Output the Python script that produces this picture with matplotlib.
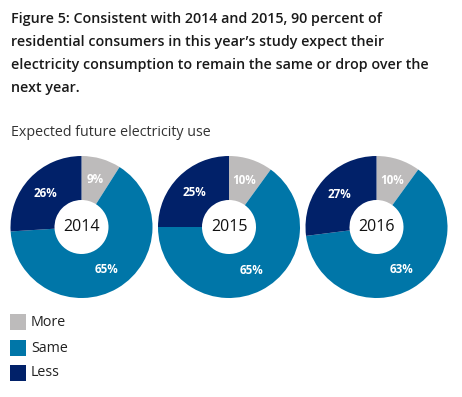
import matplotlib.pyplot as plt

# data
years = ['2014', '2015', '2016']
more = [9, 10, 10]
same = [65, 65, 63]
less = [26, 25, 27]
categories = ['More', 'Same', 'Less']
colors = ['#bdbbbb', '#0076a8', '#012169']

title_lines = ["Figure 5: Consistent with 2014 and 2015, 90 percent of",
               "residential consumers in this year\u2019s study expect their",
               "electricity consumption to remain the same or drop over the",
               "next year."]
subtitle = "Expected future electricity use"

W, H = 462, 397
plt.rcParams['font.family'] = ['Open Sans', 'DejaVu Sans']

fig = plt.figure(figsize=(W / 100, H / 100), dpi=100)
ax = fig.add_axes([0, 0, 1, 1])

centers_x = [81.5, 229, 376.5]
cy = H - 227
R = 71
hole = 27

for i, yr in enumerate(years):
    vals = [more[i], same[i], less[i]]
    wedges, texts, autotexts = ax.pie(
        vals, colors=colors, startangle=90, counterclock=False,
        center=(centers_x[i], cy), radius=R,
        wedgeprops=dict(width=R - hole, linewidth=0),
        autopct=lambda p: f'{p:.0f}%', pctdistance=(R + hole) / 2 / R,
        textprops=dict(color='white', fontsize=8.4, fontweight='bold'))
    ax.text(centers_x[i], cy, yr, ha='center', va='center',
            fontsize=11.5, color='#111111')

ax.set_xlim(0, W)
ax.set_ylim(0, H)
ax.set_aspect('equal')
ax.axis('off')

for k, line in enumerate(title_lines):
    fig.text(11 / W, 1 - (19 + 23 * k) / H, line, ha='left', va='center',
             fontsize=10.3, fontweight='semibold', color='#1a1a1a')
fig.text(11 / W, 1 - 133 / H, subtitle, ha='left', va='center',
         fontsize=10.3, color='#333333')

# legend
leg_y = [322, 348, 373]
for lab, col, y in zip(categories, colors, leg_y):
    ax.add_patch(plt.Rectangle((10, H - y - 8), 16, 16, color=col, lw=0))
    ax.text(31, H - y, lab, ha='left', va='center', fontsize=10.3,
            color='#222222')

fig.savefig('out.png', dpi=100)
